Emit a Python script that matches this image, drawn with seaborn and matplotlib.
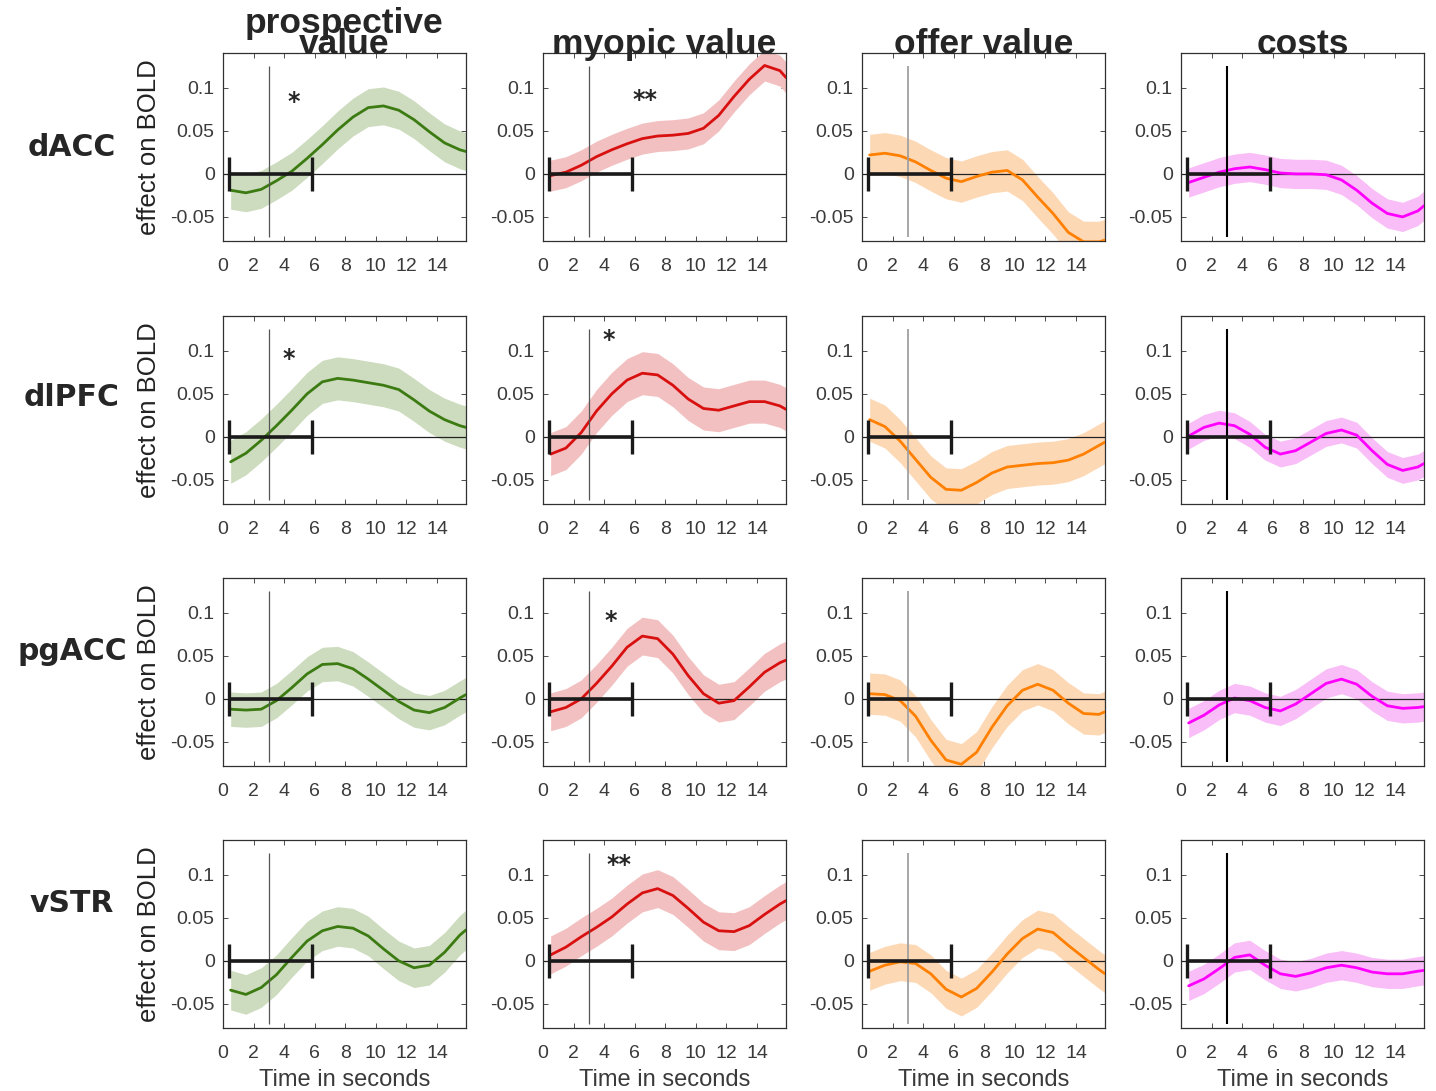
import matplotlib
matplotlib.use("Agg")
import matplotlib.pyplot as plt
import numpy as np
import seaborn as sns

# Time base of the event-locked regression time courses (seconds)
time_s = [0.5, 1.5, 2.5, 3.5, 4.5, 5.5, 6.5, 7.5, 8.5, 9.5, 10.5, 11.5, 12.5, 13.5, 14.5, 15.5, 15.9]

regions = ["dACC", "dlPFC", "pgACC", "vSTR"]
regressors = ["prospective\nvalue", "myopic value", "offer value", "costs"]

# dACC
dacc_prospective = [-0.019, -0.022, -0.018, -0.008, 0.003, 0.018, 0.034, 0.051, 0.066, 0.077, 0.079, 0.074, 0.063, 0.049, 0.036, 0.028, 0.026]
dacc_myopic = [-0.002, 0.002, 0.010, 0.020, 0.028, 0.035, 0.041, 0.044, 0.045, 0.047, 0.053, 0.068, 0.090, 0.110, 0.126, 0.120, 0.112]
dacc_offer = [0.022, 0.024, 0.021, 0.014, 0.004, -0.005, -0.009, -0.003, 0.002, 0.004, -0.007, -0.027, -0.046, -0.068, -0.079, -0.079, -0.077]
dacc_costs = [-0.010, -0.004, 0.002, 0.006, 0.008, 0.005, 0.001, 0.000, 0.000, -0.001, -0.007, -0.019, -0.034, -0.046, -0.050, -0.043, -0.037]

# dlPFC
dlpfc_prospective = [-0.029, -0.019, -0.004, 0.013, 0.031, 0.050, 0.064, 0.068, 0.066, 0.063, 0.060, 0.055, 0.043, 0.030, 0.020, 0.013, 0.011]
dlpfc_myopic = [-0.020, -0.013, 0.005, 0.030, 0.050, 0.066, 0.074, 0.072, 0.060, 0.044, 0.033, 0.031, 0.036, 0.041, 0.041, 0.036, 0.032]
dlpfc_offer = [0.020, 0.012, -0.005, -0.026, -0.047, -0.061, -0.062, -0.053, -0.042, -0.035, -0.033, -0.031, -0.030, -0.027, -0.020, -0.010, -0.006]
dlpfc_costs = [0.001, 0.011, 0.016, 0.013, 0.003, -0.012, -0.020, -0.016, -0.006, 0.004, 0.008, 0.002, -0.016, -0.032, -0.039, -0.035, -0.031]

# pgACC
pgacc_prospective = [-0.012, -0.013, -0.012, -0.002, 0.013, 0.029, 0.040, 0.041, 0.035, 0.023, 0.010, -0.003, -0.013, -0.016, -0.010, 0.001, 0.005]
pgacc_myopic = [-0.015, -0.010, 0.000, 0.018, 0.038, 0.060, 0.073, 0.070, 0.052, 0.027, 0.006, -0.005, -0.002, 0.014, 0.031, 0.042, 0.045]
pgacc_offer = [0.006, 0.005, -0.002, -0.020, -0.048, -0.071, -0.076, -0.062, -0.033, -0.008, 0.010, 0.017, 0.010, -0.005, -0.017, -0.018, -0.015]
pgacc_costs = [-0.028, -0.019, -0.007, 0.001, -0.002, -0.010, -0.014, -0.006, 0.006, 0.018, 0.023, 0.017, 0.003, -0.008, -0.011, -0.010, -0.009]

# vSTR
vstr_prospective = [-0.034, -0.039, -0.031, -0.016, 0.004, 0.023, 0.035, 0.040, 0.038, 0.029, 0.014, 0.000, -0.008, -0.005, 0.010, 0.030, 0.036]
vstr_myopic = [0.007, 0.016, 0.028, 0.039, 0.051, 0.066, 0.079, 0.084, 0.076, 0.061, 0.045, 0.035, 0.034, 0.041, 0.054, 0.066, 0.070]
vstr_offer = [-0.012, -0.005, -0.001, -0.003, -0.015, -0.033, -0.042, -0.032, -0.013, 0.008, 0.026, 0.037, 0.033, 0.018, 0.004, -0.010, -0.015]
vstr_costs = [-0.029, -0.021, -0.009, 0.004, 0.007, -0.005, -0.015, -0.018, -0.014, -0.008, -0.005, -0.008, -0.013, -0.015, -0.015, -0.012, -0.011]

# Standard error half-widths of the shaded bands (rows: regions, cols: regressors)
sem_dacc = [0.022, 0.018, 0.024, 0.017]
sem_dlpfc = [0.025, 0.025, 0.025, 0.015]
sem_pgacc = [0.020, 0.022, 0.024, 0.017]
sem_vstr = [0.023, 0.022, 0.022, 0.017]

# Significance markers: (region, regressor, label, time, height)
stars = [
    ("dACC", 0, "*", 4.6, 0.084),
    ("dACC", 1, "**", 6.7, 0.086),
    ("dlPFC", 0, "*", 4.3, 0.091),
    ("dlPFC", 1, "*", 4.3, 0.113),
    ("pgACC", 1, "*", 4.4, 0.091),
    ("vSTR", 1, "**", 5.0, 0.111),
]

# Response window marker (center, half width) and stimulus onset line
window_center, window_half = 3.1, 2.7
onset_time = 3.0

series = {
    "dACC": [dacc_prospective, dacc_myopic, dacc_offer, dacc_costs],
    "dlPFC": [dlpfc_prospective, dlpfc_myopic, dlpfc_offer, dlpfc_costs],
    "pgACC": [pgacc_prospective, pgacc_myopic, pgacc_offer, pgacc_costs],
    "vSTR": [vstr_prospective, vstr_myopic, vstr_offer, vstr_costs],
}
sems = {"dACC": sem_dacc, "dlPFC": sem_dlpfc, "pgACC": sem_pgacc, "vSTR": sem_vstr}

line_colors = ["#3c7a12", "#d81010", "#ff8000", "#ff00ff"]
band_colors = ["#cddcbf", "#f2c0c0", "#fdd8b5", "#f9bdf7"]
onset_style = [("#555555", 0.9), ("#555555", 0.9), ("#a0a0a0", 1.3), ("#000000", 1.5)]

sns.set_theme(style="ticks")
plt.rcParams["font.family"] = ["Liberation Sans", "DejaVu Sans"]
plt.rcParams.update({
    "xtick.direction": "in", "ytick.direction": "in",
    "xtick.top": True, "ytick.right": True,
    "xtick.major.size": 3.5, "ytick.major.size": 3.5,
    "xtick.major.width": 0.6, "ytick.major.width": 0.6,
    "axes.linewidth": 0.9, "axes.edgecolor": "#303030",
    "xtick.color": "#303030", "ytick.color": "#303030",
    "xtick.labelcolor": "#3a3a3a", "ytick.labelcolor": "#3a3a3a",
    "lines.solid_joinstyle": "round",
})

W, H = 1436, 1091
fig = plt.figure(figsize=(W / 100, H / 100), dpi=100)

col_left = [223, 543, 862, 1181]
row_top = [53, 316, 578, 840]
ax_w, ax_h = 243, 188
label_y = [147, 397, 652, 903]

t = np.array(time_s)
for r, region in enumerate(regions):
    for c in range(4):
        ax = fig.add_axes([col_left[c] / W, 1 - (row_top[r] + ax_h) / H, ax_w / W, ax_h / H])
        v = np.array(series[region][c])
        h = sems[region][c]
        ax.fill_between(t, v - h, v + h, color=band_colors[c], lw=0, zorder=1)
        sns.lineplot(x=t, y=v, ax=ax, color=line_colors[c], lw=2, zorder=3)
        ax.axhline(0, color="#222222", lw=0.9, zorder=2)
        oc, olw = onset_style[c]
        ax.vlines(onset_time, -0.073, 0.125, color=oc, lw=olw, zorder=4)
        ax.errorbar(window_center, 0, xerr=window_half, color="k", lw=2.6,
                    capsize=12.5, capthick=2.4, zorder=5)
        ax.set_xlim(0, 15.9)
        ax.set_ylim(-0.078, 0.1405)
        ax.set_xticks([0, 2, 4, 6, 8, 10, 12, 14])
        ax.set_xticklabels(["0", "2", "4", "6", "8", "10", "12", "14"], fontsize=14)
        ax.set_yticks([-0.05, 0, 0.05, 0.1])
        ax.set_yticklabels(["-0.05", "0", "0.05", "0.1"], fontsize=14)
        ax.tick_params(axis="x", pad=12)
        ax.tick_params(axis="y", pad=6)
        for s in ax.spines.values():
            s.set_visible(True)
        if c == 0:
            ax.set_ylabel("effect on BOLD", fontsize=18.5, color="#222222")
            ax.yaxis.set_label_coords(-0.255, 0.5)
        else:
            ax.set_ylabel("")
        if r == 3:
            ax.set_xlabel("Time in seconds", fontsize=17, color="#3a3a3a", labelpad=5)
        else:
            ax.set_xlabel("")
        if r == 0:
            ax.text(0.5, 0.995, regressors[c], transform=ax.transAxes, ha="center",
                    va="baseline", fontsize=25.5, fontweight="bold", linespacing=0.55,
                    zorder=6)
        for reg, ci, lab, st, sy in stars:
            if reg == region and ci == c:
                ax.text(st, sy, lab, ha="center", va="center", fontsize=17,
                        fontweight="bold", family="DejaVu Sans", zorder=6)
    fig.text(72 / W, 1 - label_y[r] / H, region, ha="center", va="center",
             fontsize=21.5, fontweight="bold", family="DejaVu Sans")

fig.savefig("out.png", dpi=100, facecolor="white")
